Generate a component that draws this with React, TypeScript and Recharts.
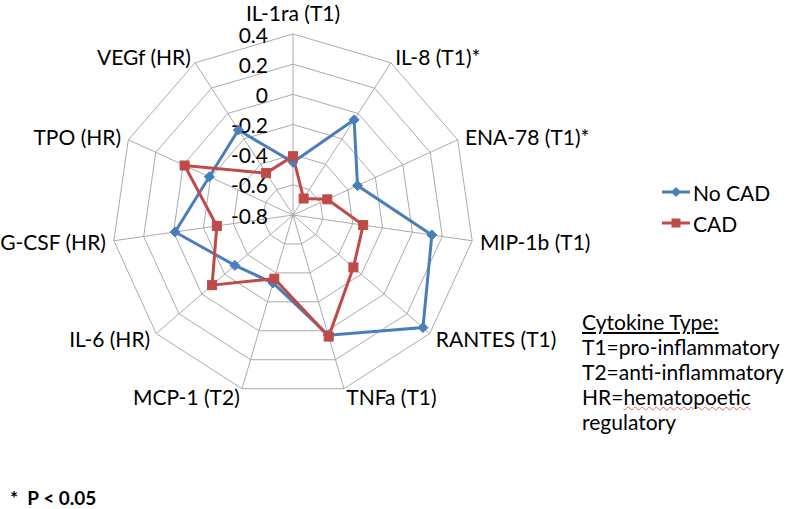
import React from "react";
import {
  RadarChart,
  Radar,
  PolarGrid,
  PolarAngleAxis,
  PolarRadiusAxis,
} from "recharts";

const categories = [
  "IL-1ra (T1)",
  "IL-8 (T1)*",
  "ENA-78 (T1)*",
  "MIP-1b (T1)",
  "RANTES (T1)",
  "TNFa (T1)",
  "MCP-1 (T2)",
  "IL-6 (HR)",
  "G-CSF (HR)",
  "TPO (HR)",
  "VEGf (HR)",
];
const noCad = [-0.45, -0.05, -0.33, 0.13, 0.34, 0.03, -0.33, -0.29, -0.01, -0.19, -0.13];
const cad = [-0.41, -0.67, -0.55, -0.33, -0.27, 0.04, -0.36, -0.09, -0.29, -0.01, -0.47];
const radiusDomain = [-0.8, 0.4];
const radiusTickCount = 7;

const BLUE = "#4a7ebb";
const RED = "#be4b48";
const FONT = "Lato, 'Open Sans', sans-serif";
const FS = 21;
const CX = 293;
const CY = 215;
const R = 181;

const data = categories.map((name, i) => ({
  name,
  noCad: noCad[i],
  cad: cad[i],
}));

function AngleTick(props: any) {
  const { x, y, payload } = props;
  const dx = x - CX;
  const anchor = Math.abs(dx) < 3 ? "middle" : dx > 0 ? "start" : "end";
  const top = Math.abs(dx) < 3 && y < CY;
  return (
    <text
      x={x}
      y={top ? y - 14 : y}
      textAnchor={anchor}
      dominantBaseline="central"
      fontSize={FS}
      fontFamily={FONT}
      fill="#000"
    >
      {payload.value}
    </text>
  );
}

function RadiusTick(props: any) {
  const { x, y, payload } = props;
  const v = Number(Number(payload.value).toFixed(1));
  return (
    <text
      x={x - 25}
      y={y}
      textAnchor="end"
      dominantBaseline="central"
      fontSize={FS}
      fontFamily={FONT}
      fill="#000"
    >
      {String(v)}
    </text>
  );
}

function Diamond(props: any) {
  const { cx, cy, index } = props;
  const s = 5;
  return (
    <path
      key={`d-${index}`}
      d={`M${cx},${cy - s} L${cx + s},${cy} L${cx},${cy + s} L${cx - s},${cy} Z`}
      fill={BLUE}
      stroke={BLUE}
    />
  );
}

function Square(props: any) {
  const { cx, cy, index } = props;
  const s = 4.5;
  return (
    <rect
      key={`s-${index}`}
      x={cx - s}
      y={cy - s}
      width={s * 2}
      height={s * 2}
      fill={RED}
      stroke={RED}
    />
  );
}

function LegendItem({ color, label, square, top }: any) {
  return (
    <div
      style={{
        position: "absolute",
        left: 662,
        top,
        height: 24,
        display: "flex",
        alignItems: "center",
        fontFamily: FONT,
        fontSize: FS,
      }}
    >
      <svg width={30} height={14} style={{ marginRight: 1 }}>
        <line x1={0} y1={7} x2={28} y2={7} stroke={color} strokeWidth={3} />
        {square ? (
          <rect x={9.5} y={2.5} width={9} height={9} fill={color} />
        ) : (
          <path d="M14,2 L19,7 L14,12 L9,7 Z" fill={color} />
        )}
      </svg>
      <span>{label}</span>
    </div>
  );
}

export default function App() {
  return (
    <div
      style={{
        position: "fixed",
        left: 0,
        top: 0,
        width: 800,
        height: 509,
        overflow: "hidden",
        background: "#fff",
        fontFamily: FONT,
      }}
    >
      <RadarChart
        width={800}
        height={509}
        cx={CX}
        cy={CY}
        outerRadius={R}
        data={data}
        margin={{ top: 0, right: 0, bottom: 0, left: 0 }}
      >
        <PolarGrid gridType="polygon" stroke="#ababab" strokeWidth={1} />
        <PolarAngleAxis dataKey="name" tick={<AngleTick />} tickLine={false} axisLine={false} />
        <PolarRadiusAxis
          angle={90}
          domain={radiusDomain}
          allowDataOverflow
          allowDecimals
          tickCount={radiusTickCount}
          axisLine={false}
          tickLine={false}
          tick={<RadiusTick />}
        />
        <Radar
          dataKey="noCad"
          stroke={BLUE}
          strokeWidth={3}
          fill="none"
          fillOpacity={0}
          dot={Diamond}
          isAnimationActive={false}
        />
        <Radar
          dataKey="cad"
          stroke={RED}
          strokeWidth={3}
          fill="none"
          fillOpacity={0}
          dot={Square}
          isAnimationActive={false}
        />
      </RadarChart>

      <LegendItem color={BLUE} label="No CAD" top={180} />
      <LegendItem color={RED} label="CAD" top={211} square />

      <div
        style={{
          position: "absolute",
          left: 582,
          top: 309,
          fontSize: FS,
          lineHeight: "25px",
          color: "#000",
          whiteSpace: "nowrap",
        }}
      >
        <div style={{ textDecoration: "underline" }}>Cytokine Type:</div>
        <div>T1=pro-inflammatory</div>
        <div>T2=anti-inflammatory</div>
        <div>
          HR=
          <span
            style={{
              textDecoration: "underline wavy #e06666",
              textDecorationThickness: 1,
            }}
          >
            hematopoetic
          </span>
        </div>
        <div>regulatory</div>
      </div>

      <div
        style={{
          position: "absolute",
          left: 10,
          top: 490,
          fontSize: 19,
          fontWeight: "bold",
          whiteSpace: "pre",
          lineHeight: "16px",
        }}
      >
        {"*  P < 0.05"}
      </div>
    </div>
  );
}
